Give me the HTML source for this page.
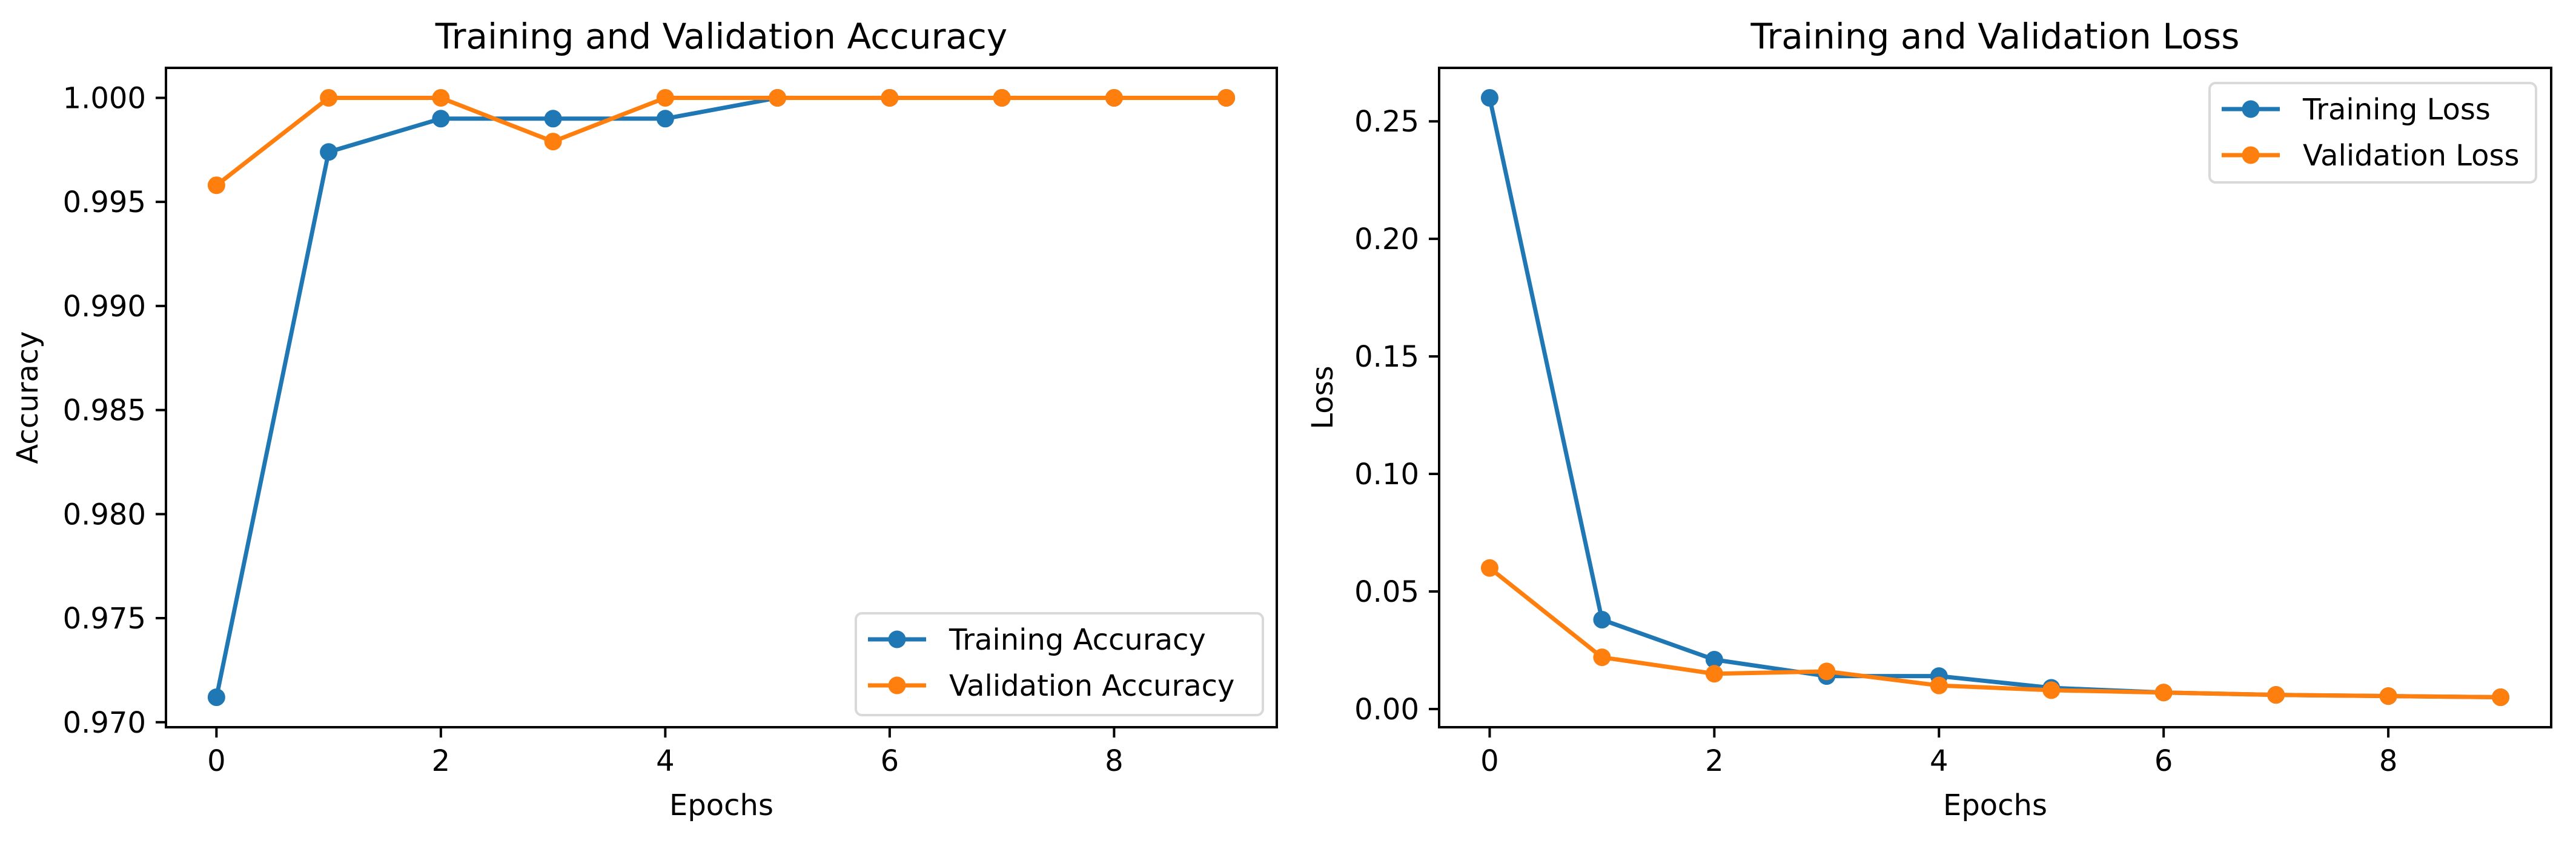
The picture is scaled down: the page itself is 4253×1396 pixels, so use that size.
<!DOCTYPE html>
<html><head><meta charset="utf-8"><style>
html,body{margin:0;padding:0;background:#fff;}
svg{display:block;font-family:"DejaVu Sans","Liberation Sans",sans-serif;}
</style></head><body>
<svg id="fig" width="4253" height="1396" viewBox="0 0 4253 1396"></svg>
<script>
const epochs=[0,1,2,3,4,5,6,7,8,9];
const trainAcc=[0.9712,0.9974,0.999,0.999,0.999,1,1,1,1,1];
const valAcc=[0.9958,1,1,0.9979,1,1,1,1,1,1];
const trainLoss=[0.26,0.038,0.021,0.014,0.014,0.009,0.007,0.006,0.0055,0.005];
const valLoss=[0.060,0.022,0.015,0.016,0.010,0.008,0.007,0.006,0.0055,0.005];
const xTicks=[0,2,4,6,8];
const accTicks=[0.970,0.975,0.980,0.985,0.990,0.995,1.000];
const lossTicks=[0,0.05,0.10,0.15,0.20,0.25];
const NS="http://www.w3.org/2000/svg";
const svg=document.getElementById('fig');
function mk(tag,attrs,parent){const e=document.createElementNS(NS,tag);for(const k in attrs)e.setAttribute(k,attrs[k]);(parent||svg).appendChild(e);return e;}
function panel(cfg){
  const g=mk('g',{});
  
  
  const L=cfg.L,R=cfg.R,T=112,B=1200;
  const allY=cfg.s1.concat(cfg.s2);
  let mn=Math.min(...allY),mx=Math.max(...allY),m=(mx-mn)*0.05;
  const y0=mn-m,y1=mx+m;
  const xmin=Math.min(...epochs),xmax=Math.max(...epochs),xm=(xmax-xmin)*0.05;
  const sx=v=>L+(v-(xmin-xm))/((xmax+xm)-(xmin-xm))*(R-L);
  const sy=v=>B-(v-y0)/(y1-y0)*(B-T);
  const title=mk('text',{x:(L+R)/2,y:80,'text-anchor':'middle','font-size':58,fill:'#000'},g);
  title.textContent=cfg.title;
  
  
  xTicks.forEach(t=>{
    const x=sx(t);
    mk('line',{x1:x,x2:x,y1:B,y2:B+17,stroke:'#000','stroke-width':4},g);
    const tx=mk('text',{x:x,y:1272,'text-anchor':'middle','font-size':48,fill:'#000'},g);
    tx.textContent=String(t);
    
    
  });
  cfg.ticks.forEach(t=>{
    const y=sy(t);
    mk('line',{x1:L-17,x2:L,y1:y,y2:y,stroke:'#000','stroke-width':4},g);
    const ty=mk('text',{x:L-33,y:y+17,'text-anchor':'end','font-size':48,fill:'#000'},g);
    ty.textContent=t.toFixed(cfg.dec);
    
    
  });
  const xl=mk('text',{x:(L+R)/2,y:1345,'text-anchor':'middle','font-size':48,fill:'#000'},g);
  xl.textContent='Epochs';
  
  
  const yl=mk('text',{x:0,y:0,'text-anchor':'middle','font-size':48,fill:'#000',transform:`translate(${cfg.ylx},${(T+B)/2}) rotate(-90)`},g);
  yl.textContent=cfg.ylabel;
  
  
  [[cfg.s1,'#1f77b4','training'],[cfg.s2,'#ff7f0e','validation']].forEach(([s,c,n])=>{
    const pl=mk('polyline',{points:s.map((v,i)=>sx(epochs[i])+','+sy(v)).join(' '),fill:'none',stroke:c,'stroke-width':7,'stroke-linejoin':'round'},g);
    
    
    s.forEach((v,i)=>{
      const ci=mk('circle',{cx:sx(epochs[i]),cy:sy(v),r:14.5,fill:c},g);
      
      
    });
  });
  mk('rect',{x:L,y:T,width:R-L,height:B-T,fill:'none',stroke:'#000','stroke-width':4},g);
  const lg=mk('g',{},g);
  
  
  const lb=cfg.leg;
  mk('rect',{x:lb.x,y:lb.y,width:lb.w,height:lb.h,rx:10,fill:'#fff','fill-opacity':0.8,stroke:'#d9d9d9','stroke-width':4},lg);
  [[cfg.l1,'#1f77b4'],[cfg.l2,'#ff7f0e']].forEach(([t,c],i)=>{
    const yy=lb.y+43+i*76;
    mk('line',{x1:lb.x+20,x2:lb.x+116,y1:yy,y2:yy,stroke:c,'stroke-width':7},lg);
    mk('circle',{cx:lb.x+68,cy:yy,r:14.5,fill:c},lg);
    const lt=mk('text',{x:lb.x+154,y:yy+17,'font-size':48,fill:'#000'},lg);
    lt.textContent=t;
    
    
  });
}
panel({name:'accuracy-chart',L:274,R:2108,title:'Training and Validation Accuracy',ylabel:'Accuracy',ylx:62,
  s1:trainAcc,s2:valAcc,ticks:accTicks,dec:3,l1:'Training Accuracy',l2:'Validation Accuracy',
  leg:{x:1413,y:1012,w:672,h:168}});
panel({name:'loss-chart',L:2376,R:4212,title:'Training and Validation Loss',ylabel:'Loss',ylx:2200,
  s1:trainLoss,s2:valLoss,ticks:lossTicks,dec:2,l1:'Training Loss',l2:'Validation Loss',
  leg:{x:3648,y:137,w:539,h:164}});
</script>
</body></html>
